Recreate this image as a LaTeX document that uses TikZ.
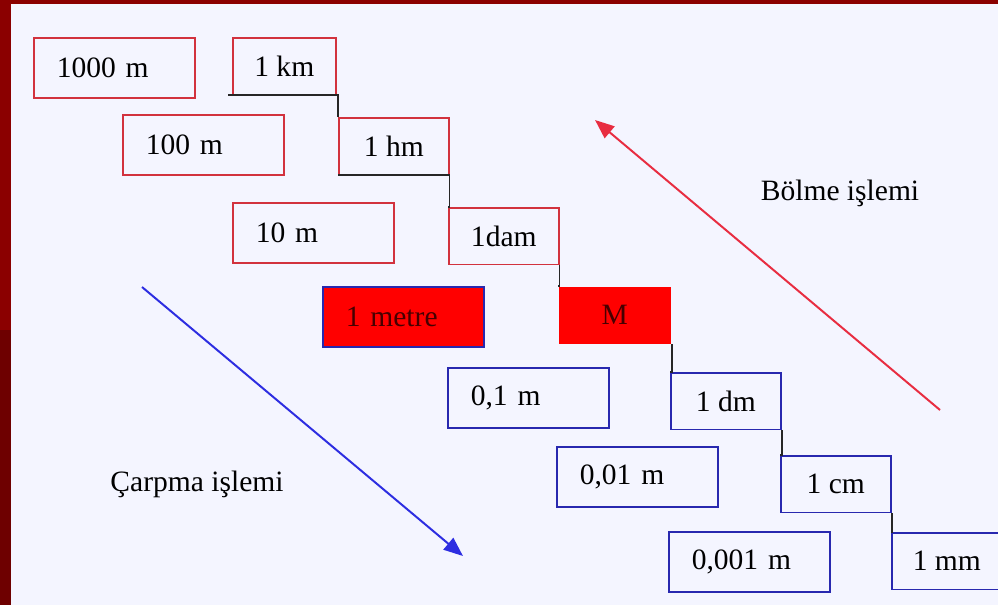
\documentclass[tikz,border=0pt]{standalone}
\usepackage{fontspec}
\setmainfont{Liberation Serif}
\usepackage{xcolor}
\usepackage{tikz}
\usetikzlibrary{arrows.meta,positioning,calc}
\definecolor{zemin}{RGB}{244,245,255}
\definecolor{koyuKirmizi}{RGB}{139,0,0}
\definecolor{koyuKirmizi2}{RGB}{110,0,0}
\definecolor{kirmiziCizgi}{RGB}{210,50,62}
\definecolor{maviCizgi}{RGB}{40,40,175}
\definecolor{kirmiziOk}{RGB}{232,45,65}
\definecolor{maviOk}{RGB}{45,45,225}
\definecolor{yaziKoyu}{RGB}{70,0,0}
\tikzset{
    kutu/.style={
        rectangle,
        draw,
        line width=1.1pt,
        anchor=north west,
        minimum height=1.5cm
    },
    genis/.style={kutu, text width=2.875cm, inner xsep=0.575cm, align=left},
    birim/.style={kutu, minimum width=2.75cm, minimum height=1.42cm, align=center},
    ust/.style={draw=kirmiziCizgi},
    alt/.style={draw=maviCizgi},
    vurgu/.style={fill=red, text=yaziKoyu},
    basamak/.style={line width=1.3pt, draw=black!85},
    ok/.style={-{Triangle[length=4.8mm, width=3.8mm]}, line width=1.4pt}
}

\begin{document}
\begin{tikzpicture}[x=0.025cm, y=-0.025cm, font=\fontsize{21}{25}\selectfont]
        \fill[zemin] (0,0) rectangle (998,605);
        \useasboundingbox (0,0) rectangle (998,605);
        \fill[koyuKirmizi] (0,0) rectangle (11,330);
        \fill[koyuKirmizi2] (0,330) rectangle (11,605);
        \fill[koyuKirmizi] (0,0) rectangle (998,3.5);

        \node[genis, ust] (m1000) at (33,37) {1000 m};
        \node[genis, ust] (m100) at (122,114) {100 m};
        \node[genis, ust] (m10) at (232,202) {10 m};
        \node[genis, alt, vurgu] (metre) at (322,286) {1 metre};
        \node[genis, alt] (m01) at (447,367) {0,1 m};
        \node[genis, alt] (m001) at (556,446) {0,01 m};
        \node[genis, alt] (m0001) at (668,531) {0,001 m};

        \node[birim, ust, minimum width=2.575cm] (km) at (232,37) {1 km};
        \node[birim, ust] (hm) at (338,117) {1 hm};
        \node[birim, ust] (dam) at (448,207) {1dam};
        \node[birim, vurgu, draw=none, minimum width=2.8cm] (merkez) at (558,286) {M};
        \node[birim, alt] (dm) at (670,372) {1 dm};
        \node[birim, alt] (cm) at (780,455) {1 cm};
        \node[birim, alt] (mm) at (891,532) {1 mm};

        \draw[basamak] ($(km.south west)+(-4,0)$) -- (km.south east) -| (hm.north west);
        \draw[basamak] (hm.south west) -- (hm.south east) |- (dam.north west);
        \draw[basamak] (dam.south east) |- (merkez.north west);
        \draw[basamak] (merkez.south east) |- (dm.north west);
        \draw[basamak] (dm.south east) |- (cm.north west);
        \draw[basamak] (cm.south east) |- (mm.north west);

        \coordinate (bolmeBas) at (940,410);
        \coordinate (bolmeSon) at (595,120);
        \coordinate (carpmaBas) at (142,287);
        \coordinate (carpmaSon) at (463,556);
        \draw[ok, kirmiziOk] (bolmeBas) -- (bolmeSon);
        \draw[ok, maviOk] (carpmaBas) -- (carpmaSon);

        \node (bolme) at (840,193) {Bölme işlemi};
        \node (carpma) at (197,484) {Çarpma işlemi};
    \end{tikzpicture}
\end{document}
